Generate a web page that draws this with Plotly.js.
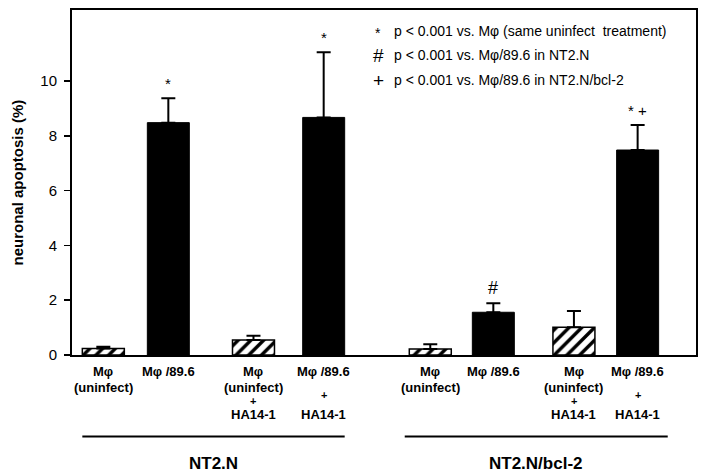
<!DOCTYPE html>
<html>
<head>
<meta charset="utf-8">
<script src="https://cdn.plot.ly/plotly-3.0.1.min.js"></script>
<style>html,body{margin:0;padding:0;background:#fff;}#chart{width:702px;height:475px;}</style>
</head>
<body>
<div id="chart"></div>
<script>
// ---- data ----
var conditions = ["Mφ (uninfect) NT2.N", "Mφ/89.6 NT2.N", "Mφ (uninfect)+HA14-1 NT2.N", "Mφ/89.6+HA14-1 NT2.N",
                  "Mφ (uninfect) NT2.N/bcl-2", "Mφ/89.6 NT2.N/bcl-2", "Mφ (uninfect)+HA14-1 NT2.N/bcl-2", "Mφ/89.6+HA14-1 NT2.N/bcl-2"];
var apoptosis = [0.24, 8.48, 0.55, 8.67, 0.22, 1.56, 1.01, 7.48];
var apoptosisErr = [0.06, 0.89, 0.15, 2.38, 0.17, 0.33, 0.60, 0.91];
var infected = [false, true, false, true, false, true, false, true];
var significance = ["", "*", "", "*", "", "#", "", "* +"];
var labelLines = [
  ["Mφ", "(uninfect)"],
  ["Mφ /89.6"],
  ["Mφ", "(uninfect)", "+", "HA14-1"],
  ["Mφ /89.6", "", "+", "HA14-1"],
  ["Mφ", "(uninfect)"],
  ["Mφ /89.6"],
  ["Mφ", "(uninfect)", "+", "HA14-1"],
  ["Mφ /89.6", "", "+", "HA14-1"]
];
var groupNames = ["NT2.N", "NT2.N/bcl-2"];
var groupMembers = [[0, 3], [4, 7]];
var yTicks = [0, 2, 4, 6, 8, 10];
var noteSymbols = ["*", "#", "+"];
var noteTexts = ["p < 0.001 vs. Mφ (same uninfect  treatment)", "p < 0.001 vs. Mφ/89.6 in NT2.N", "p < 0.001 vs. Mφ/89.6 in NT2.N/bcl-2"];

// ---- layout helpers ----
var slots = [0, 1, 2.31, 3.39, 5.03, 6, 7.24, 8.22];
var W = 702, H = 475, ML = 72, MR = 6, MT = 10, MB = 120;
var plotW = W - ML - MR, plotH = H - MT - MB;
var xRange = [-0.482, 9.118];
var yRange = [0, 12.59];
var barW = 0.646;
var FONT = "Liberation Sans, Arial, sans-serif";
function pyPaper(px) { return (H - MB - px) / plotH; }
function pxPaper(px) { return (px - ML) / plotW; }

var hatched = { x: [], y: [], e: [] }, solid = { x: [], y: [], e: [] };
apoptosis.forEach(function (v, i) {
  var t = infected[i] ? solid : hatched;
  t.x.push(slots[i]); t.y.push(v); t.e.push(apoptosisErr[i]);
});
function zeros(a) { return a.map(function () { return 0; }); }

var traces = [
  {
    type: "bar", x: hatched.x, y: hatched.y, width: barW, name: "uninfected",
    marker: { color: "white", line: { color: "black", width: 1.5 },
      pattern: { shape: "/", fgcolor: "black", bgcolor: "white", size: 9, solidity: 0.38 } },
    error_y: { type: "data", symmetric: false, array: hatched.e, arrayminus: zeros(hatched.e), color: "black", thickness: 2, width: 7 }
  },
  {
    type: "bar", x: solid.x, y: solid.y, width: barW, name: "infected",
    marker: { color: "black", line: { color: "black", width: 1 } },
    error_y: { type: "data", symmetric: false, array: solid.e, arrayminus: zeros(solid.e), color: "black", thickness: 2, width: 7 }
  }
];

var annotations = [];
// y title
annotations.push({ xref: "paper", yref: "paper", x: 0, y: 0.5, xshift: -55, xanchor: "center", yanchor: "middle",
  text: "<b>neuronal apoptosis (%)</b>", textangle: -90, showarrow: false, font: { family: FONT, size: 15, color: "black" } });
// significance marks
significance.forEach(function (s, i) {
  if (!s) return;
  annotations.push({ xref: "x", yref: "y", x: slots[i], y: apoptosis[i] + apoptosisErr[i] + 0.55, text: s,
    showarrow: false, xanchor: "center", yanchor: "middle", font: { family: FONT, size: s === "#" ? 18 : 15, color: "black" } });
});
// category labels (each line separately)
var lineY = [[371.7, 387, 401, 414.5], [371.7, 387, 395, 414.5]];
labelLines.forEach(function (lines, i) {
  var ys = lines.length === 4 && lines[1] === "" ? lineY[1] : lineY[0];
  lines.forEach(function (t, k) {
    if (!t) return;
    var isPlus = t === "+";
    annotations.push({ xref: "x", yref: "paper", x: slots[i], y: pyPaper(ys[k]), text: "<b>" + t + "</b>",
      showarrow: false, xanchor: "center", yanchor: "middle",
      font: { family: FONT, size: isPlus ? 11 : 13, color: "black" } });
  });
});
// group names
var shapes = [];
groupNames.forEach(function (g, j) {
  var a = groupMembers[j][0], b = groupMembers[j][1];
  var x0 = slots[a] - barW / 2 - (j ? 0.07 : 0), x1 = slots[b] + barW / 2 + (j ? 0.14 : 0);
  shapes.push({ type: "line", xref: "x", yref: "paper", x0: x0, x1: x1, y0: pyPaper(436.5), y1: pyPaper(436.5),
    line: { color: "black", width: 2 } });
  annotations.push({ xref: "x", yref: "paper", x: (x0 + x1) / 2, y: pyPaper(463), text: "<b>" + g + "</b>",
    showarrow: false, xanchor: "center", yanchor: "middle", font: { family: FONT, size: 17, color: "black" } });
});
// notes in top right
var noteY = [31, 55, 80];
noteSymbols.forEach(function (s, k) {
  annotations.push({ xref: "paper", yref: "paper", x: pxPaper(378), y: pyPaper(noteY[k] + (s === "*" ? 2 : 0)), text: s,
    showarrow: false, xanchor: "center", yanchor: "middle", font: { family: FONT, size: s === "*" ? 14 : 19, color: "black" } });
  annotations.push({ xref: "paper", yref: "paper", x: pxPaper(393), y: pyPaper(noteY[k]), text: noteTexts[k],
    showarrow: false, xanchor: "left", yanchor: "middle", xshift: -1, font: { family: FONT, size: 14, color: "black" } });
});

var layout = {
  width: W, height: H,
  margin: { l: ML, r: MR, t: MT, b: MB, pad: 0 },
  paper_bgcolor: "white", plot_bgcolor: "white",
  showlegend: false, barmode: "overlay",
  font: { family: FONT, color: "black" },
  xaxis: { range: xRange, showgrid: false, zeroline: false, showticklabels: false, ticks: "",
    showline: true, linecolor: "black", linewidth: 2, mirror: true, fixedrange: true },
  yaxis: { range: yRange, showgrid: false, zeroline: false, tickvals: yTicks, ticktext: yTicks.map(String),
    ticks: "outside", ticklen: 6, tickwidth: 1.5, tickcolor: "black", ticklabelstandoff: 4,
    tickfont: { family: FONT, size: 15, color: "black" },
    showline: true, linecolor: "black", linewidth: 2, mirror: true, fixedrange: true },
  annotations: annotations,
  shapes: shapes
};

Plotly.newPlot("chart", traces, layout, { staticPlot: true, displayModeBar: false });
</script>
</body>
</html>
